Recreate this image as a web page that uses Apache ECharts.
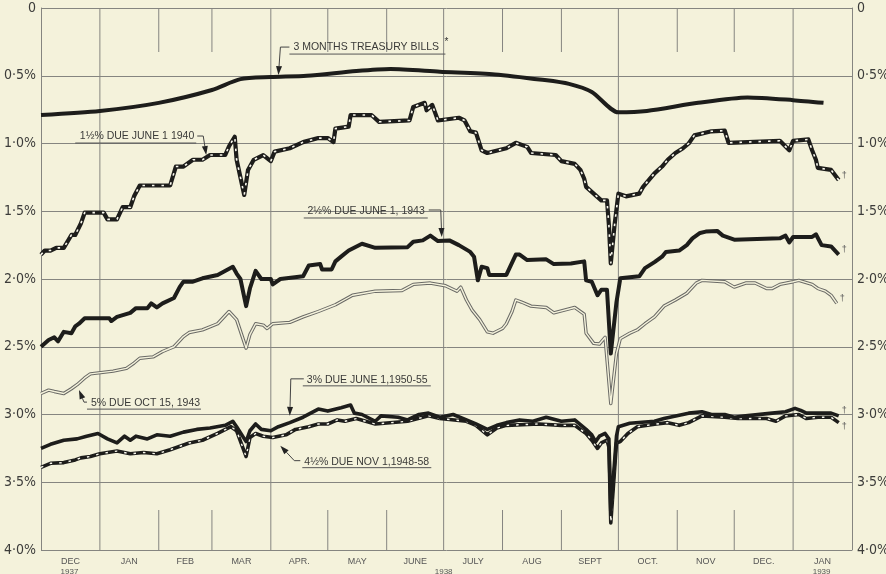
<!DOCTYPE html>
<html>
<head>
<meta charset="utf-8">
<script src="https://cdn.jsdelivr.net/npm/echarts@6/dist/echarts.min.js"></script>
<style>
  html, body { margin: 0; padding: 0; background: #f4f2db; }
  #chart { width: 886px; height: 574px; }
</style>
</head>
<body>
<div id="chart"></div>
<script>
// ---- data (yields in %) ----
var monthStarts = ['1937-12-01', '1938-01-01', '1938-02-01', '1938-03-01', '1938-04-01', '1938-05-01', '1938-06-01',
  '1938-07-01', '1938-08-01', '1938-09-01', '1938-10-01', '1938-11-01', '1938-12-01', '1939-01-01', '1939-02-01'];
var monthLabels = ['DEC', 'JAN', 'FEB', 'MAR', 'APR.', 'MAY', 'JUNE', 'JULY', 'AUG', 'SEPT', 'OCT.', 'NOV', 'DEC.', 'JAN'];
var yearMarks = [['1937-12-16', '1937'], ['1938-07-01', '1938'], ['1939-01-16', '1939']];
var fullLines = ['1938-01-01', '1938-04-01', '1938-07-01', '1938-10-01', '1939-01-01'];
var yTicks = [0, 0.5, 1, 1.5, 2, 2.5, 3, 3.5, 4];

var treasuryBills = [['1937-12-01', 0.79], ['1938-01-01', 0.76], ['1938-02-01', 0.70], ['1938-03-01', 0.605],
  ['1938-03-16', 0.525], ['1938-04-01', 0.51], ['1938-04-20', 0.50], ['1938-05-16', 0.465], ['1938-06-03', 0.45],
  ['1938-06-29', 0.47], ['1938-07-28', 0.49], ['1938-08-22', 0.53], ['1938-09-05', 0.56], ['1938-09-17', 0.62],
  ['1938-10-01', 0.77], ['1938-10-16', 0.76], ['1938-11-12', 0.70], ['1938-12-08', 0.66], ['1939-01-01', 0.68],
  ['1939-01-17', 0.70]];

var due1940 = [['1937-12-01', 1.82], ['1937-12-03', 1.79], ['1937-12-06', 1.79], ['1937-12-09', 1.77], ['1937-12-13', 1.77],
  ['1937-12-17', 1.675], ['1937-12-19', 1.675], ['1937-12-22', 1.59], ['1937-12-24', 1.51], ['1938-01-03', 1.51],
  ['1938-01-05', 1.56], ['1938-01-10', 1.56], ['1938-01-13', 1.47], ['1938-01-17', 1.47], ['1938-01-19', 1.39],
  ['1938-01-20', 1.39], ['1938-01-22', 1.31], ['1938-02-07', 1.31], ['1938-02-10', 1.17], ['1938-02-14', 1.17],
  ['1938-02-19', 1.12], ['1938-02-24', 1.12], ['1938-02-28', 1.085], ['1938-03-08', 1.085], ['1938-03-10', 1.02],
  ['1938-03-13', 0.95], ['1938-03-14', 1.12], ['1938-03-18', 1.38], ['1938-03-20', 1.195], ['1938-03-23', 1.12],
  ['1938-03-28', 1.085], ['1938-04-01', 1.13], ['1938-04-03', 1.06], ['1938-04-11', 1.035], ['1938-04-18', 0.99],
  ['1938-04-26', 0.96], ['1938-05-01', 0.96], ['1938-05-04', 0.99], ['1938-05-05', 0.89], ['1938-05-12', 0.875],
  ['1938-05-13', 0.79], ['1938-05-24', 0.79], ['1938-05-28', 0.84], ['1938-06-13', 0.83], ['1938-06-15', 0.73],
  ['1938-06-21', 0.70], ['1938-06-22', 0.755], ['1938-06-25', 0.715], ['1938-06-28', 0.83], ['1938-07-09', 0.81],
  ['1938-07-12', 0.83], ['1938-07-15', 0.91], ['1938-07-18', 0.92], ['1938-07-21', 1.05], ['1938-07-24', 1.07],
  ['1938-08-03', 1.035], ['1938-08-08', 0.995], ['1938-08-14', 1.025], ['1938-08-16', 1.07], ['1938-08-29', 1.085],
  ['1938-09-01', 1.13], ['1938-09-08', 1.15], ['1938-09-11', 1.195], ['1938-09-13', 1.26], ['1938-09-14', 1.32],
  ['1938-09-18', 1.37], ['1938-09-22', 1.42], ['1938-09-25', 1.42], ['1938-09-26', 1.6], ['1938-09-27', 1.885],
  ['1938-09-29', 1.6], ['1938-10-01', 1.37], ['1938-10-05', 1.39], ['1938-10-12', 1.37], ['1938-10-14', 1.32],
  ['1938-10-20', 1.22], ['1938-10-24', 1.17], ['1938-10-27', 1.12], ['1938-10-31', 1.07], ['1938-11-04', 1.035],
  ['1938-11-07', 1.0], ['1938-11-10', 0.94], ['1938-11-19', 0.91], ['1938-11-26', 0.905], ['1938-11-28', 0.995],
  ['1938-12-25', 0.98], ['1938-12-30', 1.05], ['1939-01-01', 0.98], ['1939-01-09', 0.97], ['1939-01-11', 1.05],
  ['1939-01-13', 1.12], ['1939-01-14', 1.18], ['1939-01-21', 1.195], ['1939-01-25', 1.27]];

var due1943 = [['1937-12-01', 2.50], ['1937-12-05', 2.45], ['1937-12-08', 2.43], ['1937-12-10', 2.46], ['1937-12-13', 2.39],
  ['1937-12-17', 2.40], ['1937-12-19', 2.35], ['1937-12-21', 2.33], ['1937-12-24', 2.29], ['1938-01-06', 2.29],
  ['1938-01-07', 2.31], ['1938-01-10', 2.28], ['1938-01-17', 2.25], ['1938-01-20', 2.215], ['1938-01-26', 2.215],
  ['1938-01-28', 2.18], ['1938-01-31', 2.21], ['1938-02-03', 2.18], ['1938-02-09', 2.14], ['1938-02-12', 2.06],
  ['1938-02-14', 2.02], ['1938-02-19', 2.02], ['1938-02-24', 1.995], ['1938-03-04', 1.97], ['1938-03-12', 1.91],
  ['1938-03-14', 1.96], ['1938-03-16', 2.0], ['1938-03-19', 2.20], ['1938-03-21', 2.07], ['1938-03-24', 1.94],
  ['1938-03-27', 2.0], ['1938-04-01', 2.0], ['1938-04-02', 2.04], ['1938-04-06', 2.0], ['1938-04-18', 1.98],
  ['1938-04-21', 1.90], ['1938-04-27', 1.89], ['1938-04-28', 1.93], ['1938-05-03', 1.93], ['1938-05-05', 1.87],
  ['1938-05-08', 1.835], ['1938-05-12', 1.79], ['1938-05-19', 1.74], ['1938-05-26', 1.77], ['1938-06-12', 1.765],
  ['1938-06-15', 1.725], ['1938-06-20', 1.715], ['1938-06-24', 1.68], ['1938-06-28', 1.72], ['1938-07-04', 1.715],
  ['1938-07-09', 1.75], ['1938-07-15', 1.80], ['1938-07-17', 1.835], ['1938-07-19', 2.01], ['1938-07-21', 1.91],
  ['1938-07-24', 1.92], ['1938-07-25', 1.97], ['1938-08-03', 1.97], ['1938-08-08', 1.82], ['1938-08-10', 1.82],
  ['1938-08-14', 1.86], ['1938-08-24', 1.855], ['1938-08-28', 1.89], ['1938-09-06', 1.885], ['1938-09-13', 1.87],
  ['1938-09-14', 2.01], ['1938-09-17', 2.02], ['1938-09-20', 2.12], ['1938-09-22', 2.08], ['1938-09-25', 2.08],
  ['1938-09-27', 2.55], ['1938-09-30', 2.17], ['1938-10-02', 1.995], ['1938-10-12', 1.98], ['1938-10-15', 1.92],
  ['1938-10-20', 1.875], ['1938-10-24', 1.835], ['1938-10-26', 1.80], ['1938-11-02', 1.79], ['1938-11-06', 1.75],
  ['1938-11-09', 1.70], ['1938-11-13', 1.66], ['1938-11-16', 1.65], ['1938-11-22', 1.645], ['1938-11-25', 1.68],
  ['1938-12-01', 1.71], ['1938-12-25', 1.70], ['1938-12-28', 1.68], ['1938-12-30', 1.73], ['1939-01-01', 1.69],
  ['1939-01-11', 1.69], ['1939-01-13', 1.67], ['1939-01-16', 1.75], ['1939-01-21', 1.76], ['1939-01-25', 1.82]];

var oct1943 = [['1937-12-01', 2.845], ['1937-12-05', 2.82], ['1937-12-08', 2.83], ['1937-12-13', 2.845], ['1937-12-17', 2.81],
  ['1937-12-20', 2.78], ['1937-12-24', 2.73], ['1937-12-27', 2.70], ['1938-01-08', 2.68], ['1938-01-15', 2.66],
  ['1938-01-19', 2.62], ['1938-01-22', 2.585], ['1938-01-29', 2.575], ['1938-02-03', 2.535], ['1938-02-09', 2.50],
  ['1938-02-14', 2.425], ['1938-02-17', 2.395], ['1938-02-24', 2.375], ['1938-03-04', 2.33], ['1938-03-10', 2.24],
  ['1938-03-14', 2.30], ['1938-03-19', 2.51], ['1938-03-21', 2.41], ['1938-03-24', 2.33], ['1938-03-28', 2.34],
  ['1938-03-30', 2.365], ['1938-04-02', 2.33], ['1938-04-11', 2.32], ['1938-04-18', 2.28], ['1938-04-26', 2.24],
  ['1938-05-05', 2.19], ['1938-05-14', 2.12], ['1938-05-26', 2.09], ['1938-06-09', 2.085], ['1938-06-15', 2.04],
  ['1938-06-24', 2.03], ['1938-07-02', 2.05], ['1938-07-08', 2.09], ['1938-07-10', 2.06], ['1938-07-13', 2.155],
  ['1938-07-16', 2.23], ['1938-07-20', 2.30], ['1938-07-24', 2.39], ['1938-07-27', 2.40], ['1938-08-01', 2.365],
  ['1938-08-03', 2.33], ['1938-08-06', 2.24], ['1938-08-08', 2.155], ['1938-08-11', 2.17], ['1938-08-16', 2.20],
  ['1938-08-24', 2.21], ['1938-08-28', 2.25], ['1938-09-08', 2.21], ['1938-09-13', 2.26], ['1938-09-14', 2.40],
  ['1938-09-18', 2.475], ['1938-09-21', 2.48], ['1938-09-24', 2.43], ['1938-09-27', 2.92], ['1938-09-30', 2.55],
  ['1938-10-02', 2.44], ['1938-10-07', 2.40], ['1938-10-11', 2.375], ['1938-10-15', 2.33], ['1938-10-20', 2.28],
  ['1938-10-25', 2.20], ['1938-10-31', 2.155], ['1938-11-06', 2.105], ['1938-11-11', 2.03], ['1938-11-14', 2.01],
  ['1938-11-26', 2.02], ['1938-12-01', 2.06], ['1938-12-07', 2.03], ['1938-12-12', 2.03], ['1938-12-18', 2.07],
  ['1938-12-21', 2.07], ['1938-12-25', 2.04], ['1939-01-01', 2.02], ['1939-01-04', 2.01], ['1939-01-11', 2.04],
  ['1939-01-14', 2.07], ['1939-01-18', 2.09], ['1939-01-21', 2.12], ['1939-01-24', 2.18]];

var due1950 = [['1937-12-01', 3.25], ['1937-12-06', 3.22], ['1937-12-13', 3.19], ['1937-12-20', 3.18], ['1937-12-25', 3.16],
  ['1937-12-31', 3.14], ['1938-01-05', 3.18], ['1938-01-10', 3.21], ['1938-01-14', 3.16], ['1938-01-17', 3.19],
  ['1938-01-20', 3.16], ['1938-01-26', 3.18], ['1938-01-31', 3.15], ['1938-02-07', 3.16], ['1938-02-14', 3.13],
  ['1938-02-21', 3.11], ['1938-02-28', 3.10], ['1938-03-08', 3.08], ['1938-03-12', 3.05], ['1938-03-14', 3.09],
  ['1938-03-19', 3.20], ['1938-03-21', 3.12], ['1938-03-24', 3.07], ['1938-03-27', 3.11], ['1938-04-01', 3.12],
  ['1938-04-05', 3.09], ['1938-04-11', 3.06], ['1938-04-18', 3.02], ['1938-04-26', 2.96], ['1938-05-01', 2.975],
  ['1938-05-08', 2.95], ['1938-05-13', 2.93], ['1938-05-15', 2.99], ['1938-05-19', 3.00], ['1938-05-26', 3.05],
  ['1938-05-29', 3.01], ['1938-06-07', 3.02], ['1938-06-12', 3.04], ['1938-06-18', 3.00], ['1938-06-23', 2.99],
  ['1938-06-29', 3.02], ['1938-07-06', 3.00], ['1938-07-13', 3.04], ['1938-07-18', 3.07], ['1938-07-24', 3.11],
  ['1938-07-29', 3.08], ['1938-08-03', 3.06], ['1938-08-10', 3.04], ['1938-08-17', 3.05], ['1938-08-24', 3.02],
  ['1938-09-01', 3.05], ['1938-09-08', 3.04], ['1938-09-14', 3.11], ['1938-09-17', 3.15], ['1938-09-19', 3.20],
  ['1938-09-21', 3.16], ['1938-09-24', 3.14], ['1938-09-26', 3.18], ['1938-09-27', 3.72], ['1938-09-30', 3.16],
  ['1938-10-01', 3.09], ['1938-10-07', 3.065], ['1938-10-20', 3.05], ['1938-10-25', 3.03], ['1938-11-07', 2.99],
  ['1938-11-14', 2.98], ['1938-11-19', 3.0], ['1938-11-26', 3.00], ['1938-12-01', 3.02], ['1938-12-07', 3.01],
  ['1938-12-21', 2.99], ['1938-12-28', 2.98], ['1939-01-02', 2.955], ['1939-01-05', 2.97], ['1939-01-08', 2.99],
  ['1939-01-21', 2.99], ['1939-01-25', 3.01]];

var nov1948 = [['1937-12-01', 3.39], ['1937-12-06', 3.36], ['1937-12-13', 3.355], ['1937-12-19', 3.335], ['1937-12-22', 3.32],
  ['1937-12-27', 3.31], ['1938-01-01', 3.29], ['1938-01-10', 3.27], ['1938-01-17', 3.29], ['1938-01-24', 3.28],
  ['1938-01-31', 3.29], ['1938-02-07', 3.26], ['1938-02-17', 3.21], ['1938-02-24', 3.19], ['1938-03-04', 3.14],
  ['1938-03-11', 3.09], ['1938-03-14', 3.12], ['1938-03-19', 3.31], ['1938-03-21', 3.17], ['1938-03-24', 3.14],
  ['1938-03-28', 3.16], ['1938-04-02', 3.17], ['1938-04-09', 3.15], ['1938-04-14', 3.11], ['1938-04-21', 3.09],
  ['1938-04-26', 3.07], ['1938-05-01', 3.07], ['1938-05-06', 3.04], ['1938-05-10', 3.05], ['1938-05-16', 3.03],
  ['1938-05-26', 3.07], ['1938-06-12', 3.05], ['1938-06-23', 3.01], ['1938-06-29', 3.03], ['1938-07-13', 3.05],
  ['1938-07-18', 3.08], ['1938-07-24', 3.15], ['1938-07-29', 3.10], ['1938-08-03', 3.08], ['1938-08-20', 3.07],
  ['1938-09-01', 3.08], ['1938-09-08', 3.08], ['1938-09-14', 3.14], ['1938-09-17', 3.19], ['1938-09-20', 3.25],
  ['1938-09-22', 3.21], ['1938-09-25', 3.19], ['1938-09-26', 3.24], ['1938-09-27', 3.80], ['1938-09-30', 3.21],
  ['1938-10-02', 3.20], ['1938-10-06', 3.14], ['1938-10-11', 3.09], ['1938-10-21', 3.07], ['1938-10-27', 3.06],
  ['1938-11-02', 3.08], ['1938-11-07', 3.06], ['1938-11-14', 3.01], ['1938-11-26', 3.02], ['1938-12-03', 3.03],
  ['1938-12-18', 3.03], ['1938-12-23', 3.05], ['1938-12-28', 3.01], ['1939-01-04', 3.00], ['1939-01-08', 3.03],
  ['1939-01-14', 3.02], ['1939-01-21', 3.02], ['1939-01-25', 3.06]];

// ---- helpers ----
function t(s) { var p = s.split('-'); return new Date(+p[0], +p[1] - 1, +p[2]).getTime(); }
function pts(arr) { return arr.map(function (d) { return [t(d[0]), d[1]]; }); }
function yLabel(v) { return v === 0 ? '0' : v.toFixed(1).replace('.', '\u00b7') + '%'; }

var INK = '#1d1d1b';
var PAPER = '#f4f2db';
var GRID = '#858580';
var FONT = "'Liberation Sans Narrow', 'DejaVu Sans Condensed', 'Liberation Sans', sans-serif";

var chart = echarts.init(document.getElementById('chart'));

function lineSeries(name, data, width, color, extra) {
  var s = {
    name: name, type: 'line', data: pts(data), symbol: 'none', z: 5,
    lineStyle: { width: width, color: color, join: 'round' }, silent: true
  };
  for (var k in extra) s[k] = extra[k];
  return s;
}
var dagger = { show: true, formatter: '\u2020', color: '#555', fontSize: 9, distance: 3, offset: [0, -5] };

var gridData = monthStarts.slice(1, -1).map(function (s) { return [t(s), fullLines.indexOf(s) >= 0 ? 1 : 0]; });
var monthData = monthLabels.map(function (m, i) { return [(t(monthStarts[i]) + t(monthStarts[i + 1])) / 2, i]; });
var yearData = yearMarks.map(function (y, i) { return [t(y[0]), i]; });

chart.setOption({
  backgroundColor: PAPER,
  animation: false,
  grid: { left: 41, right: 34, top: 8, bottom: 24, outerBoundsMode: 'none', containLabel: false },
  xAxis: {
    type: 'value', min: t(monthStarts[0]), max: t(monthStarts[monthStarts.length - 1]),
    axisLine: { show: false }, axisTick: { show: false }, axisLabel: { show: false }, splitLine: { show: false }
  },
  yAxis: [{
    type: 'value', inverse: true, min: 0, max: 4, interval: 0.5, position: 'left',
    axisLine: { show: true, lineStyle: { color: GRID, width: 1 } }, axisTick: { show: false },
    axisLabel: { formatter: yLabel, color: '#3c3c3a', fontSize: 14, fontFamily: FONT, margin: 5 },
    splitLine: { show: true, lineStyle: { color: GRID, width: 1 } }
  }, {
    type: 'value', inverse: true, min: 0, max: 4, interval: 0.5, position: 'right',
    axisLine: { show: true, lineStyle: { color: GRID, width: 1 } }, axisTick: { show: false },
    axisLabel: { formatter: yLabel, color: '#3c3c3a', fontSize: 14, fontFamily: FONT, margin: 5 },
    splitLine: { show: false }
  }],
  series: [
    {
      type: 'custom', data: gridData, z: 1, silent: true,
      renderItem: function (params, api) {
        var d = api.value(0);
        var top = api.coord([d, 0]), bot = api.coord([d, 4]);
        var st = { stroke: GRID, lineWidth: 1 };
        if (api.value(1) === 1) {
          return { type: 'line', shape: { x1: top[0], y1: top[1], x2: bot[0], y2: bot[1] }, style: st };
        }
        return { type: 'group', children: [
          { type: 'line', shape: { x1: top[0], y1: top[1], x2: top[0], y2: top[1] + 44 }, style: st },
          { type: 'line', shape: { x1: bot[0], y1: bot[1] - 40, x2: bot[0], y2: bot[1] }, style: st }
        ] };
      }
    },
    {
      type: 'custom', data: monthData, z: 1, silent: true, clip: false,
      renderItem: function (params, api) {
        var p = api.coord([api.value(0), 4]);
        return { type: 'text', x: p[0], y: p[1] + 12,
          style: { text: monthLabels[api.value(1)], fill: '#555', fontSize: 9, fontFamily: "'Liberation Sans', sans-serif",
            align: 'center', verticalAlign: 'middle' } };
      }
    },
    {
      type: 'custom', data: yearData, z: 1, silent: true, clip: false,
      renderItem: function (params, api) {
        var p = api.coord([api.value(0), 4]);
        return { type: 'text', x: p[0], y: p[1] + 22,
          style: { text: yearMarks[api.value(1)][1], fill: '#555', fontSize: 8, fontFamily: "'Liberation Sans', sans-serif",
            align: 'center', verticalAlign: 'middle' } };
      }
    },
    lineSeries('3 Months Treasury Bills', treasuryBills, 4, INK, { smooth: 0.25 }),
    lineSeries('1½% due June 1 1940', due1940, 4.2, INK, { endLabel: dagger }),
    lineSeries('1½% overlay', due1940, 1.6, PAPER, { z: 6, lineStyle: { width: 1.6, color: '#fbfaf0', type: [2.5, 7] } }),
    lineSeries('2½% due June 1, 1943', due1943, 4, INK, { endLabel: dagger }),
    lineSeries('5% due Oct 15, 1943', oct1943, 3.4, '#6a6a66', { endLabel: dagger }),
    lineSeries('5% overlay', oct1943, 1.4, PAPER, { z: 6 }),
    lineSeries('3% due June 1, 1950-55', due1950, 3.6, INK, { z: 7, endLabel: dagger }),
    lineSeries('4½% due Nov 1, 1948-58', nov1948, 3.6, INK, { endLabel: { show: true, formatter: '\u2020', color: '#555', fontSize: 9, distance: 3, offset: [0, 4] } }),
    lineSeries('4½% overlay', nov1948, 1.4, PAPER, { z: 6, lineStyle: { width: 1.4, color: '#fbfaf0', type: [2.5, 7] } })
  ]
});

// ---- labels with leader arrows, anchored to data points ----
var notes = [
  { text: '3 MONTHS TREASURY BILLS', at: ['1938-04-05', 0.495], path: [[2, -28], [11, -28]], tx: 15, ty: -28, align: 'left', ul: [11, 167, -21], star: [168, -33] },
  { text: '1\u00bd% DUE JUNE 1 1940', at: ['1938-02-26', 1.085], path: [[-3, -19], [-9, -19]], tx: -12, ty: -18.5, align: 'right', ul: [-131, -10, -12] },
  { text: '2\u00bd% DUE JUNE 1, 1943', at: ['1938-06-30', 1.69], path: [[-1, -27], [-13, -27]], tx: -17, ty: -26, align: 'right', ul: [-138, -14, -19] },
  { text: '5% DUE OCT 15, 1943', at: ['1937-12-21', 2.82], path: [[5, 12], [8, 12]], tx: 12, ty: 13, align: 'left', ul: [8, 122, 19] },
  { text: '3% DUE JUNE 1,1950-55', at: ['1938-04-11', 3.01], path: [[1, -37], [14, -37]], tx: 17, ty: -36, align: 'left', ul: [13, 141, -30] },
  { text: '4\u00bd% DUE NOV 1,1948-58', at: ['1938-04-06', 3.23], path: [[14, 15], [20, 15]], tx: 24, ty: 16, align: 'left', ul: [22, 151, 22] }
];

var g = [];
notes.forEach(function (n) {
  var tip = chart.convertToPixel({ gridIndex: 0 }, [t(n.at[0]), n.at[1]]);
  var p0 = [tip[0] + n.path[0][0], tip[1] + n.path[0][1]];
  var p1 = [tip[0] + n.path[1][0], tip[1] + n.path[1][1]];
  var dx = tip[0] - p0[0], dy = tip[1] - p0[1], len = Math.sqrt(dx * dx + dy * dy);
  var ux = dx / len, uy = dy / len, L = 9, W = 3;
  var bx = tip[0] - ux * L, by = tip[1] - uy * L;
  g.push({ type: 'polyline', z: 20, shape: { points: [p1, p0, [bx, by]] }, style: { stroke: '#444', lineWidth: 1, fill: null } });
  g.push({ type: 'polygon', z: 20, shape: { points: [tip, [bx - uy * W, by + ux * W], [bx + uy * W, by - ux * W]] }, style: { fill: '#222' } });
  g.push({ type: 'text', z: 20, x: tip[0] + n.tx, y: tip[1] + n.ty,
    style: { text: n.text, fill: '#3a3a38', fontSize: 10.5, fontFamily: "'Liberation Sans', sans-serif", align: n.align, verticalAlign: 'middle' } });
  g.push({ type: 'line', z: 20, shape: { x1: tip[0] + n.ul[0], y1: tip[1] + n.ul[2], x2: tip[0] + n.ul[1], y2: tip[1] + n.ul[2] },
    style: { stroke: '#555', lineWidth: 1 } });
  if (n.star) {
    g.push({ type: 'text', z: 20, x: tip[0] + n.star[0], y: tip[1] + n.star[1],
      style: { text: '*', fill: '#333', fontSize: 10, align: 'center', verticalAlign: 'middle' } });
  }
});
chart.setOption({ graphic: g });
</script>
</body>
</html>
